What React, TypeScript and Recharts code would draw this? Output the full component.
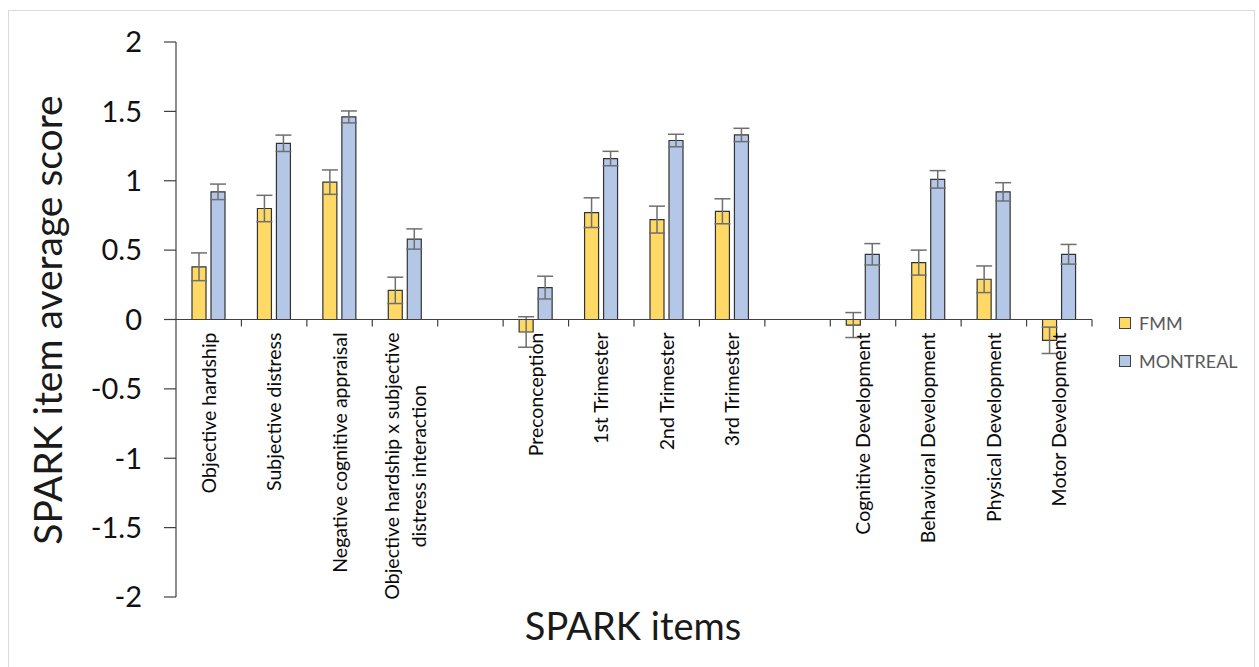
import { useLayoutEffect, useRef, useState } from "react";
import {
  BarChart,
  Bar,
  XAxis,
  YAxis,
  ErrorBar,
  ReferenceLine,
  Legend,
} from "recharts";

// blank entries are the gaps between the three item groups
const categories = [
  "Objective hardship",
  "Subjective distress",
  "Negative cognitive appraisal",
  "Objective hardship x subjective\ndistress interaction",
  "",
  "Preconception",
  "1st Trimester",
  "2nd Trimester",
  "3rd Trimester",
  "",
  "Cognitive Development",
  "Behavioral Development",
  "Physical Development",
  "Motor Development",
];

const fmmValues = [0.38, 0.8, 0.99, 0.21, null, -0.09, 0.77, 0.72, 0.78, null, -0.04, 0.41, 0.29, -0.15];
const fmmErrors = [0.1, 0.095, 0.088, 0.095, null, 0.11, 0.107, 0.097, 0.09, null, 0.09, 0.09, 0.096, 0.095];
const montrealValues = [0.92, 1.27, 1.46, 0.58, null, 0.23, 1.16, 1.29, 1.33, null, 0.47, 1.01, 0.92, 0.47];
const montrealErrors = [0.056, 0.059, 0.043, 0.073, null, 0.082, 0.052, 0.045, 0.048, null, 0.077, 0.063, 0.066, 0.071];

const yTicks = [-2, -1.5, -1, -0.5, 0, 0.5, 1, 1.5, 2];

const FONT = "Lato, 'Open Sans', sans-serif";
const AXIS = "#404040";

const data = categories.map((name, i) => ({
  name,
  fmm: fmmValues[i],
  fmmErr: fmmErrors[i],
  montreal: montrealValues[i],
  montrealErr: montrealErrors[i],
}));

const LABEL_SIZE = 19.5;
const LINE_H = 27;

function CatLabel({ cx, top, text }: { cx: number; top: number; text: string }) {
  const lines = text.split("\n");
  const ref = useRef<SVGTextElement>(null);
  const [len, setLen] = useState(0);
  useLayoutEffect(() => {
    if (ref.current) setLen(ref.current.getComputedTextLength());
  }, [text]);
  const n = lines.length;
  return (
    <g transform={`translate(${cx},${top}) rotate(-90)`}>
      {lines.map((line, i) => {
        const dy = (i - (n - 1) / 2) * LINE_H + LABEL_SIZE * 0.36;
        return (
          <text
            key={i}
            ref={i === 0 ? ref : undefined}
            x={i === 0 ? 0 : -len / 2}
            y={dy}
            textAnchor={i === 0 ? "end" : "middle"}
            fontSize={LABEL_SIZE}
            fontFamily={FONT}
            fill="#0a0a0a"
          >
            {line}
          </text>
        );
      })}
    </g>
  );
}

// horizontal axis drawn at y = 0 with its ticks and labels below it
function ZeroAxis(props: any) {
  const { x1, x2, y1 } = props;
  const bw = (x2 - x1) / categories.length;
  return (
    <g>
      <line x1={x1} x2={x2} y1={y1} y2={y1} stroke={AXIS} strokeWidth={1.2} />
      {categories.map((_, i) => (
        <line
          key={`t${i}`}
          x1={x1 + (i + 1) * bw}
          x2={x1 + (i + 1) * bw}
          y1={y1}
          y2={y1 + 7}
          stroke={AXIS}
          strokeWidth={1.2}
        />
      ))}
      {categories.map((c, i) =>
        c ? <CatLabel key={`l${i}`} cx={x1 + (i + 0.5) * bw} top={y1 + 13} text={c} /> : null
      )}
    </g>
  );
}

function LegendBox(props: any) {
  const { payload } = props;
  return (
    <div style={{ fontFamily: FONT }}>
      {(payload || []).map((p: any) => (
        <div
          key={p.value}
          style={{ display: "flex", alignItems: "center", height: 20, marginBottom: 18 }}
        >
          <span
            style={{
              width: 10,
              height: 10,
              background: p.color,
              border: "1px solid #404040",
              marginRight: 8,
            }}
          />
          <span style={{ fontSize: 18, color: "#595959" }}>{p.value}</span>
        </div>
      ))}
    </div>
  );
}

export default function App() {
  return (
    <div
      style={{
        position: "absolute",
        left: 0,
        top: 0,
        width: 1259,
        height: 667,
        background: "#fff",
        overflow: "hidden",
      }}
    >
      <div
        style={{
          position: "absolute",
          left: 8,
          top: 10,
          width: 1245,
          height: 680,
          border: "1px solid #d9d9d9",
        }}
      />
      <BarChart
        width={1259}
        height={667}
        data={data}
        margin={{ top: 42, right: 167, bottom: 70, left: 0 }}
        barGap={5}
        style={{ position: "absolute", left: 0, top: 0 }}
      >
        <XAxis dataKey="name" hide />
        <YAxis
          width={176}
          domain={[-2, 2]}
          ticks={yTicks}
          interval={0}
          tickSize={12}
          tickMargin={22}
          axisLine={{ stroke: AXIS, strokeWidth: 1.2 }}
          tickLine={{ stroke: AXIS, strokeWidth: 1.2 }}
          tick={{ fontSize: 29, fill: "#111", fontFamily: FONT }}
        />
        <Bar
          dataKey="fmm"
          name="FMM"
          fill="#ffd966"
          stroke="#333"
          strokeWidth={1.2}
          barSize={14}
          isAnimationActive={false}
        >
          <ErrorBar dataKey="fmmErr" width={8} stroke="#6f6f6f" strokeWidth={1.5} direction="y" />
        </Bar>
        <Bar
          dataKey="montreal"
          name="MONTREAL"
          fill="#b4c7e7"
          stroke="#333"
          strokeWidth={1.2}
          barSize={14}
          isAnimationActive={false}
        >
          <ErrorBar dataKey="montrealErr" width={8} stroke="#6f6f6f" strokeWidth={1.5} direction="y" />
        </Bar>
        <ReferenceLine y={0} shape={(p: any) => <ZeroAxis {...p} />} />
        <Legend
          layout="vertical"
          align="center"
          verticalAlign="middle"
          wrapperStyle={{ position: "absolute", left: 1119, top: 313, width: 140 }}
          content={(p: any) => <LegendBox {...p} />}
        />
      </BarChart>
      <svg
        width={1259}
        height={667}
        style={{ position: "absolute", left: 0, top: 0, pointerEvents: "none" }}
      >
        <text
          transform="translate(62,320) rotate(-90)"
          textAnchor="middle"
          fontSize={39}
          fontFamily={FONT}
          fill="#1a1a1a"
        >
          SPARK item average score
        </text>
        <text x={633} y={640} textAnchor="middle" fontSize={38} fontFamily={FONT} fill="#1a1a1a">
          SPARK items
        </text>
      </svg>
    </div>
  );
}
